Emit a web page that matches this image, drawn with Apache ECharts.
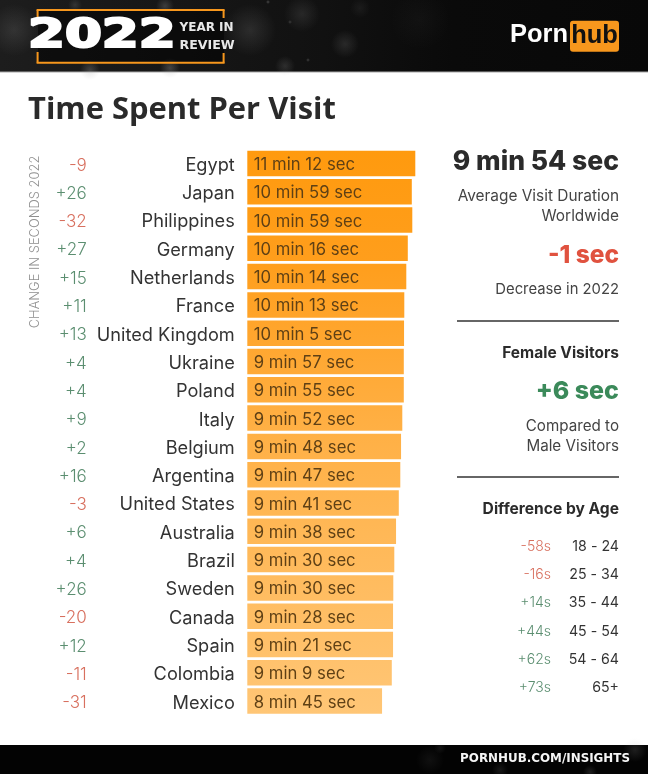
<!DOCTYPE html>
<html><head><meta charset="utf-8">
<style>html,body{margin:0;padding:0;background:#fff}#c{width:648px;height:774px}</style>
<script src="https://cdn.jsdelivr.net/npm/echarts@6/dist/echarts.min.js"></script>
</head><body><div id="c"></div>
<script>
const countries = ['Egypt','Japan','Philippines','Germany','Netherlands','France','United Kingdom','Ukraine','Poland','Italy','Belgium','Argentina','United States','Australia','Brazil','Sweden','Canada','Spain','Colombia','Mexico'];
const durationLabels = ['11 min 12 sec','10 min 59 sec','10 min 59 sec','10 min 16 sec','10 min 14 sec','10 min 13 sec','10 min 5 sec','9 min 57 sec','9 min 55 sec','9 min 52 sec','9 min 48 sec','9 min 47 sec','9 min 41 sec','9 min 38 sec','9 min 30 sec','9 min 30 sec','9 min 28 sec','9 min 21 sec','9 min 9 sec','8 min 45 sec'];
// Bar lengths, in seconds on the scale set by the top bar (the source bars do not track their printed labels exactly).
const barSeconds = [672,658,660,642,636,628,627,626,626,620,615,612,606,595,588,584,583,583,578,539];
const changes = ['-9','+26','-32','+27','+15','+11','+13','+4','+4','+9','+2','+16','-3','+6','+4','+26','-20','+12','-11','-31'];
const ageGroups = ['18 - 24','25 - 34','35 - 44','45 - 54','54 - 64','65+'];
const ageDiffs = ['-58s','-16s','+14s','+44s','+62s','+73s'];

const SANS = 'Inter';
const RED = '#D8705F', GREEN = '#5B8E70', DARK = '#2b2b2b', ORANGE = '#F7971D';
const sign = s => s[0] === '-' ? RED : GREEN;

const chart = echarts.init(document.getElementById('c'), null, {width:648, height:774});

function txt(text, x, y, size, weight, color, align) {
  return {type:'text', z:20, style:{text, x, y, fontSize:size, fontWeight:weight, fontFamily:SANS, fill:color, align:align||'right', verticalAlign:'middle'}};
}
function line(x1,y1,x2,y2,color,w){return {type:'line',z:20,shape:{x1,y1,x2,y2},style:{stroke:color,lineWidth:w}};}
function blotch(cx,cy,rx,ry,a){return {type:'ellipse',z:2,shape:{cx,cy,rx,ry},style:{fill:{type:'radial',x:.5,y:.5,r:.5,colorStops:[{offset:0,color:'rgba(170,170,170,'+a+')'},{offset:1,color:'rgba(170,170,170,0)'}]}}};}

// decorative header grain: [cx, cy, rx, ry, alpha]
const headerGrain = [[14,30,26,46,.16],[90,70,70,10,.28],[170,68,70,10,.3],[165,6,45,9,.26],[75,5,22,7,.18],[250,30,26,44,.16],[285,66,30,10,.18],[302,14,22,18,.14],[345,44,14,26,.16],[268,2,3,2,.35],[290,22,2,2,.25],[308,60,2,2,.3],[360,8,10,12,.08],[420,20,30,40,.04]];
// decorative footer grain
const footerGrain = [[430,760,30,14,.08],[500,770,50,8,.12],[590,772,50,7,.16],[635,750,22,12,.16],[440,748,16,6,.1]];

const graphics = [
  {type:'rect',z:1,shape:{x:0,y:0,width:648,height:72},style:{fill:{type:'linear',x:0,y:0,x2:1,y2:0,colorStops:[{offset:0,color:'#1d1d1d'},{offset:.5,color:'#111'},{offset:.7,color:'#0a0a0a'},{offset:1,color:'#080808'}]}}},
  ...headerGrain.map(g=>blotch(...g)),
  {type:'rect',z:3,shape:{x:38,y:10,width:186,height:52},style:{fill:'rgba(0,0,0,.5)'}},
  {type:'rect',z:4,shape:{x:0,y:71.5,width:648,height:1},style:{fill:'#a8a8a8'}},
  {type:'rect',z:1,shape:{x:0,y:745,width:648,height:29},style:{fill:'#030303'}},
  ...footerGrain.map(g=>blotch(...g)),
  // badge
  line(37.6,22,37.6,10,ORANGE,2),line(36.6,10,224.6,10,ORANGE,2),line(223.6,10,223.6,18,ORANGE,2),
  line(37.6,52,37.6,62.7,ORANGE,2),line(36.6,62.7,224.6,62.7,ORANGE,2),line(223.6,53,223.6,62.7,ORANGE,2),
  {type:'text',z:20,x:28,y:36.4,scaleX:1.36,style:{text:'2022',x:0,y:0,fontSize:39,fontWeight:'bold',fontFamily:'DejaVu Sans',fill:'#fff',stroke:'#fff',lineWidth:2.2,align:'left',verticalAlign:'middle'}},
  {type:'text',z:20,style:{text:'YEAR IN',x:179.5,y:28,fontSize:12,fontWeight:'bold',fontFamily:'DejaVu Sans',fill:'#e8e8e8',align:'left',verticalAlign:'middle'}},
  {type:'text',z:20,style:{text:'REVIEW',x:179.5,y:46,fontSize:12.6,fontWeight:'bold',fontFamily:'DejaVu Sans',fill:'#e8e8e8',align:'left',verticalAlign:'middle'}},
  // logo
  {type:'rect',z:15,shape:{x:570,y:20.7,width:49,height:31,r:3},style:{fill:ORANGE}},
  {type:'text',z:20,style:{text:'Porn',x:510,y:35,fontSize:25.5,fontWeight:'bold',fontFamily:'Liberation Sans',fill:'#fff',align:'left',verticalAlign:'middle'}},
  {type:'text',z:20,style:{text:'hub',x:594.5,y:36,fontSize:25.5,fontWeight:'bold',fontFamily:'Liberation Sans',fill:'#111',align:'center',verticalAlign:'middle'}},
  // title
  {type:'text',z:20,style:{text:'Time Spent Per Visit',x:28,y:110,fontSize:30.9,fontWeight:'bold',fontFamily:'Open Sans',fill:'#2a2a2a',align:'left',verticalAlign:'middle'}},
  // vertical axis caption
  {type:'text',z:20,x:35,y:242,rotation:Math.PI/2,style:{text:'CHANGE IN SECONDS 2022',x:0,y:0,fontSize:12.9,fontWeight:300,fontFamily:SANS,fill:'#8f8f8f',align:'center',verticalAlign:'middle'}},
  // side panel
  txt('9 min 54 sec',619,162,26.5,800,DARK),
  txt('Average Visit Duration',619,196,15.4,400,'#444'),
  txt('Worldwide',619,216,15.4,400,'#444'),
  txt('-1 sec',619,256,24.5,800,'#E0523F'),
  txt('Decrease in 2022',619,290,14.8,400,'#444'),
  line(457,321,619,321,'#333',1.5),
  txt('Female Visitors',619,353,15.5,700,DARK),
  txt('+6 sec',619,391,25,800,'#3B8A5A'),
  txt('Compared to',619,426,15.2,400,'#444'),
  txt('Male Visitors',619,446,15.2,400,'#444'),
  line(457,477,619,477,'#333',1.5),
  txt('Difference by Age',619,509,15.6,700,DARK),
  // footer
  {type:'text',z:20,style:{text:'PORNHUB.COM/INSIGHTS',x:630,y:758.5,fontSize:11.9,fontWeight:'bold',fontFamily:'DejaVu Sans',fill:'#f5f5f5',align:'right',verticalAlign:'middle'}}
];
ageGroups.forEach((g,i)=>{
  const y = 546.5 + i*28.3;
  graphics.push(txt(ageDiffs[i],551,y,14,300,sign(ageDiffs[i])));
  graphics.push(txt(g,619,y,14.2,400,'#333'));
});

chart.setOption({
  animation:false,
  backgroundColor:'#fff',
  grid:{left:247.3,top:149.25,width:168,height:566,containLabel:false},
  xAxis:{type:'value',min:0,max:672,show:false},
  yAxis:[
    {type:'category',inverse:true,data:countries,position:'left',axisLine:{show:false},axisTick:{show:false},
     axisLabel:{interval:0,margin:12.5,verticalAlign:'top',lineHeight:4,fontFamily:SANS,fontSize:18.2,fontWeight:400,color:'#333',align:'right'}},
    {type:'category',inverse:true,data:countries,position:'left',offset:160.5,axisLine:{show:false},axisTick:{show:false},
     axisLabel:{interval:0,margin:0,verticalAlign:'top',lineHeight:4,fontFamily:SANS,fontSize:17,fontWeight:300,align:'right',
       formatter:(v,i)=>changes[i],color:(v,i)=>sign(changes[i])}}
  ],
  series:[{type:'bar',data:barSeconds,barWidth:25.5,
    itemStyle:{color:{type:'linear',x:0,y:149,x2:0,y2:715,global:true,colorStops:[{offset:0,color:'#FF9A0E'},{offset:.2,color:'#FF9E1C'},{offset:.5,color:'#FFB045'},{offset:1,color:'#FFC676'}]}},
    label:{show:true,position:'insideLeft',distance:6.5,offset:[0,1.5],fontFamily:SANS,fontSize:16.7,fontWeight:400,color:'#5f4015',
      formatter:p=>durationLabels[p.dataIndex]}}],
  graphic:graphics
});
</script></body></html>
